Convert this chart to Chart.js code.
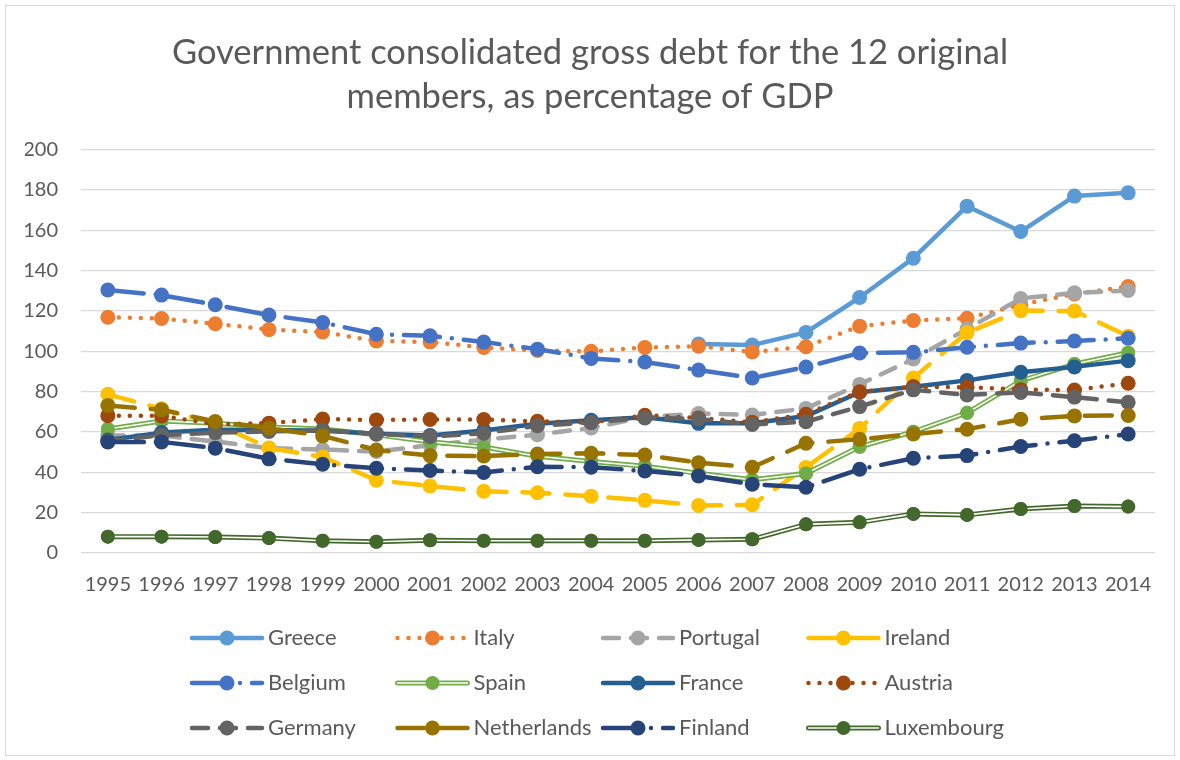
<!DOCTYPE html>
<html>
<head>
<meta charset="utf-8">
<script src="https://cdn.jsdelivr.net/npm/chart.js@4.4.0/dist/chart.umd.min.js"></script>
<style>
  html, body { margin: 0; padding: 0; background: #fff; }
  #wrap { width: 1180px; height: 760px; }
</style>
</head>
<body>
<div id="wrap"><canvas id="chart" width="1180" height="760"></canvas></div>
<script>
// data (% of GDP)
const years = ["1995", "1996", "1997", "1998", "1999", "2000", "2001", "2002", "2003", "2004",
               "2005", "2006", "2007", "2008", "2009", "2010", "2011", "2012", "2013", "2014"];
const countries = ["Greece", "Italy", "Portugal", "Ireland", "Belgium", "Spain",
                   "France", "Austria", "Germany", "Netherlands", "Finland", "Luxembourg"];

const greece = [null, null, null, null, null, null, null, null, null, null,
                null, 103.6, 103.1, 109.4, 126.7, 146.2, 172.0, 159.4, 177.0, 178.6];
const italy = [116.9, 116.3, 113.7, 110.8, 109.6, 105.1, 104.7, 101.9, 100.4, 100.0,
               101.9, 102.5, 99.7, 102.3, 112.5, 115.3, 116.4, 123.1, 128.5, 132.1];
const portugal = [58.3, 58.2, 55.3, 52.0, 51.3, 50.3, 53.4, 56.2, 58.7, 62.0,
                  67.4, 69.2, 68.4, 71.7, 83.6, 96.2, 111.1, 126.2, 129.0, 130.2];
const ireland = [78.7, 71.5, 64.3, 52.1, 47.6, 36.1, 33.2, 30.6, 29.9, 28.2,
                 26.1, 23.6, 23.9, 42.4, 61.8, 86.8, 109.3, 120.2, 120.0, 107.5];
const belgium = [130.4, 127.9, 123.1, 118.0, 114.3, 108.5, 107.7, 104.6, 101.1, 96.5,
                 94.7, 90.7, 86.8, 92.2, 99.2, 99.5, 102.0, 104.1, 105.1, 106.5];
const spain = [61.5, 65.5, 64.4, 62.5, 61.5, 58.6, 55.2, 52.6, 48.0, 45.4,
               43.0, 39.5, 36.3, 39.4, 52.7, 60.1, 69.5, 85.4, 93.7, 99.3];
const france = [56.0, 59.7, 61.1, 61.0, 60.6, 59.2, 58.3, 60.8, 64.1, 65.8,
                67.3, 64.3, 64.3, 67.9, 79.7, 82.4, 85.6, 89.6, 92.3, 95.4];
const austria = [68.1, 68.0, 63.9, 64.4, 66.4, 66.0, 66.2, 66.2, 65.3, 64.7,
                 68.3, 67.0, 64.8, 68.8, 80.0, 82.4, 82.2, 81.0, 80.8, 84.2];
const germany = [55.6, 58.4, 59.7, 60.3, 60.9, 59.1, 57.7, 59.4, 63.1, 64.8,
                 67.0, 66.5, 63.7, 65.1, 72.6, 80.9, 78.4, 79.6, 77.3, 74.7];
const netherlands = [73.1, 71.0, 65.2, 61.9, 58.1, 51.1, 48.3, 48.1, 49.1, 49.5,
                     48.6, 44.8, 42.5, 54.4, 56.4, 59.0, 61.4, 66.3, 68.0, 68.2];
const finland = [55.1, 55.1, 52.0, 46.7, 44.0, 42.0, 40.9, 39.9, 42.8, 42.5,
                 40.7, 38.2, 34.1, 32.6, 41.5, 47.0, 48.3, 52.8, 55.7, 59.0];
const luxembourg = [8.1, 8.1, 7.9, 7.4, 6.1, 5.6, 6.3, 6.1, 6.1, 6.1,
                    6.1, 6.5, 6.8, 14.2, 15.2, 19.4, 18.9, 21.8, 23.3, 23.0];

const yTicks = [0, 20, 40, 60, 80, 100, 120, 140, 160, 180, 200];

const series = [greece, italy, portugal, ireland, belgium, spain,
                france, austria, germany, netherlands, finland, luxembourg];
const colors = ["#5B9BD5", "#ED7D31", "#A5A5A5", "#FFC000", "#4472C4", "#70AD47",
                "#255E91", "#9E480E", "#636363", "#997300", "#264478", "#43682B"];

// excel-like line styles
const SOLID = [], DOT = [0, 11], DASH = [16, 12], LONGDASH = [27, 16], LONGDASHDOT = [36, 12, 0, 12];
const dashes = [SOLID, DOT, DASH, LONGDASH, LONGDASHDOT, SOLID,
                SOLID, DOT, DASH, LONGDASH, LONGDASHDOT, SOLID];
const doubles = [false, false, false, false, false, true,
                 false, false, false, false, false, true];

const FONT = "Lato";
const TEXT = "#595959";

// white stripe in the middle of a "double" line, then markers on top again
const doubleLine = {
  id: "doubleLine",
  afterDatasetDraw(chart, args) {
    const ds = chart.data.datasets[args.index];
    if (!ds.double) return;
    const ctx = chart.ctx;
    ctx.save();
    ctx.beginPath();
    let started = false;
    args.meta.data.forEach((p, i) => {
      if (ds.data[i] == null) { started = false; return; }
      if (!started) { ctx.moveTo(p.x, p.y); started = true; }
      else ctx.lineTo(p.x, p.y);
    });
    ctx.strokeStyle = "#fff";
    ctx.lineWidth = 1.6;
    ctx.lineJoin = "round";
    ctx.stroke();
    ctx.restore();
    args.meta.data.forEach((p) => p.draw(ctx, chart.chartArea));
  }
};

// background + thin frame like the office chart area
const frame = {
  id: "frame",
  beforeDraw(chart) {
    const ctx = chart.ctx;
    ctx.save();
    ctx.fillStyle = "#fff";
    ctx.fillRect(0, 0, chart.width, chart.height);
    ctx.strokeStyle = "#D9D9D9";
    ctx.lineWidth = 1;
    ctx.strokeRect(5.5, 5.5, 1169, 750);
    ctx.restore();
  }
};

// 4-column legend with line + marker samples
const gridLegend = {
  id: "gridLegend",
  afterDraw(chart) {
    const ctx = chart.ctx;
    chart.data.datasets.forEach((ds, i) => {
      const col = i % 4, row = Math.floor(i / 4);
      const x0 = 192 + col * 205.5, y = 638 + row * 45;
      ctx.save();
      ctx.beginPath();
      ctx.moveTo(x0, y);
      ctx.lineTo(x0 + 70, y);
      ctx.strokeStyle = ds.borderColor;
      ctx.lineWidth = ds.borderWidth;
      ctx.lineCap = "round";
      ctx.setLineDash(ds.borderDash);
      ctx.stroke();
      if (ds.double) {
        ctx.setLineDash([]);
        ctx.beginPath();
        ctx.moveTo(x0, y);
        ctx.lineTo(x0 + 70, y);
        ctx.strokeStyle = "#fff";
        ctx.lineWidth = 1.6;
        ctx.stroke();
      }
      ctx.setLineDash([]);
      ctx.beginPath();
      ctx.arc(x0 + 35, y, ds.pointRadius, 0, Math.PI * 2);
      ctx.fillStyle = ds.pointBackgroundColor;
      ctx.fill();
      ctx.fillStyle = TEXT;
      ctx.font = "22px " + FONT;
      ctx.textBaseline = "middle";
      ctx.fillText(ds.label, x0 + 76, y);
      ctx.restore();
    });
  }
};

const datasets = countries.map((name, i) => ({
  label: name,
  data: series[i],
  borderColor: colors[i],
  backgroundColor: colors[i],
  pointBackgroundColor: colors[i],
  pointBorderColor: colors[i],
  borderWidth: doubles[i] ? 5 : 4.5,
  borderDash: dashes[i],
  borderCapStyle: "round",
  borderJoinStyle: "round",
  pointRadius: doubles[i] ? 7 : 7.5,
  pointBorderWidth: 0,
  tension: 0,
  spanGaps: false,
  double: doubles[i],
  order: 12 - i
}));

new Chart(document.getElementById("chart"), {
  type: "line",
  data: { labels: years, datasets: datasets },
  plugins: [frame, doubleLine, gridLegend],
  options: {
    responsive: false,
    animation: false,
    devicePixelRatio: 1,
    layout: { padding: { top: 0, left: 25, right: 25, bottom: 162 } },
    plugins: {
      legend: { display: false },
      tooltip: { enabled: false },
      title: {
        display: true,
        text: ["Government consolidated gross debt for the 12 original",
               "members, as percentage of GDP"],
        color: TEXT,
        font: { family: FONT, size: 34.5, weight: "normal", lineHeight: 1.3 },
        padding: { top: 30, bottom: 30 }
      }
    },
    scales: {
      x: {
        offset: true,
        grid: { display: false, drawTicks: false },
        border: { display: false },
        ticks: {
          color: TEXT, font: { family: FONT, size: 20 },
          padding: 20, maxRotation: 0, autoSkip: false
        },
        afterFit(scale) { scale.height = 45; }
      },
      y: {
        min: 0,
        max: 200,
        grid: { color: "#D9D9D9", lineWidth: 1.3, drawTicks: false },
        border: { display: false },
        afterBuildTicks(scale) { scale.ticks = yTicks.map((v) => ({ value: v })); },
        ticks: { color: TEXT, font: { family: FONT, size: 20 }, padding: 23 },
        afterFit(scale) { scale.width = 56; }
      }
    }
  }
});
</script>
</body>
</html>
